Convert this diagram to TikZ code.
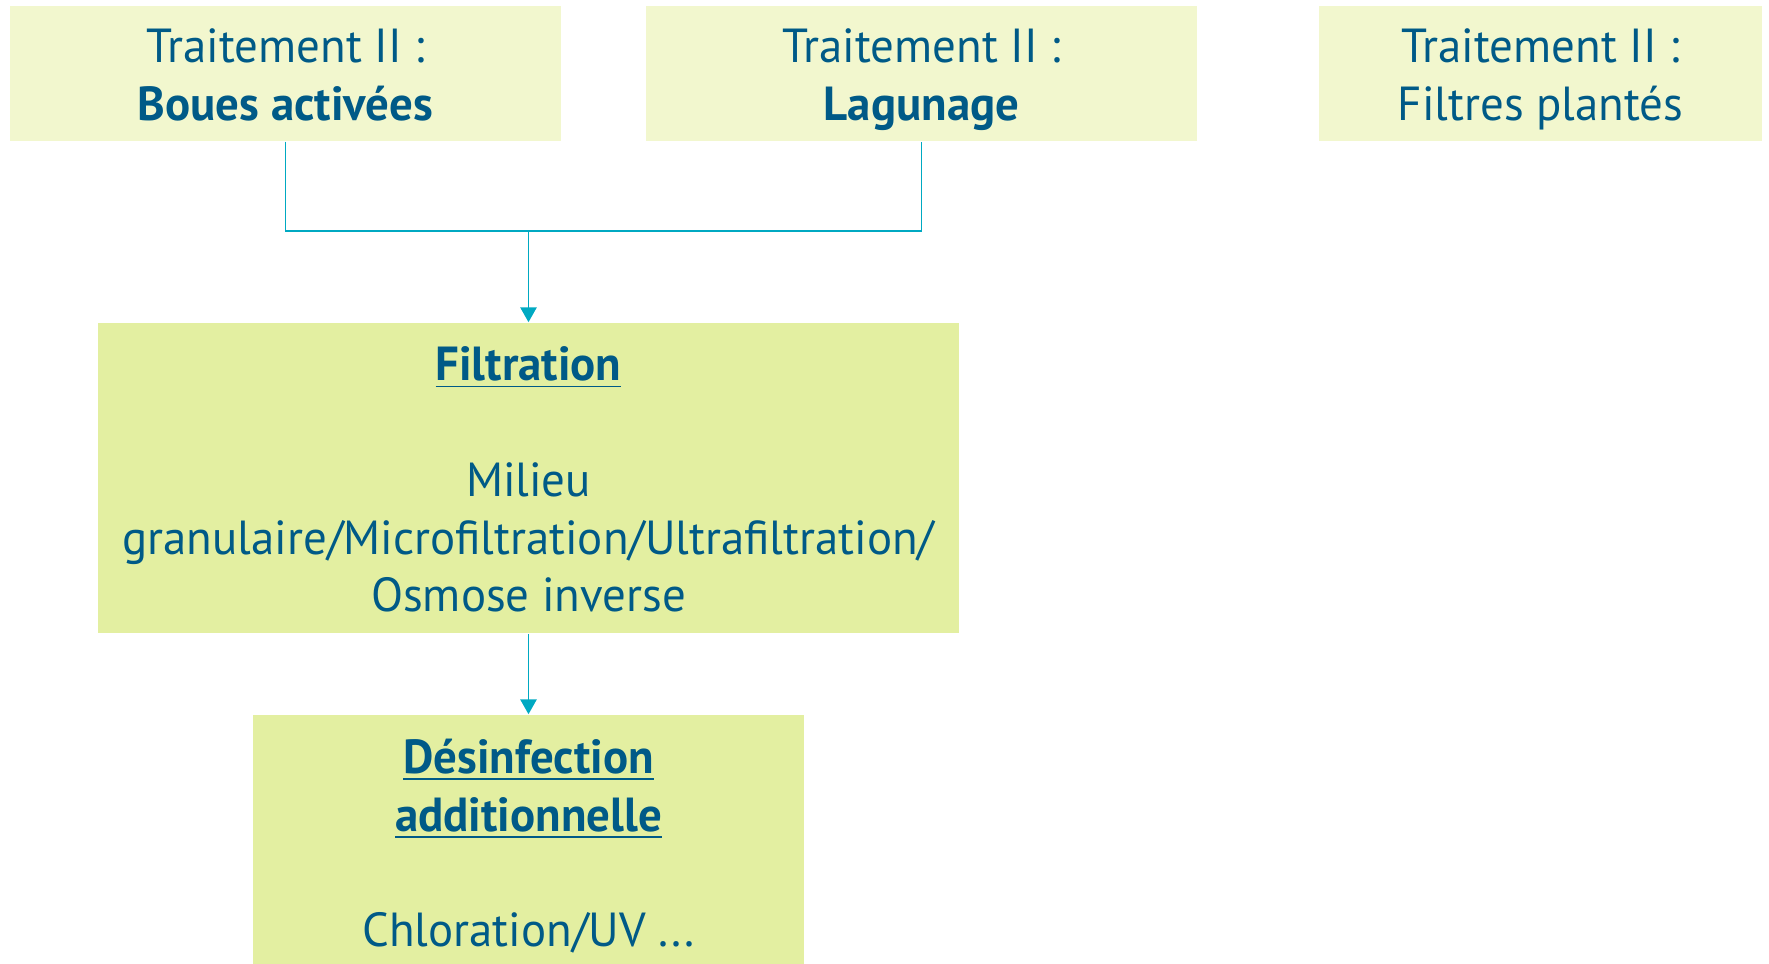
\documentclass[tikz,border=0pt]{standalone}
\usepackage{fontspec}
\setmainfont{PT Sans}[FakeStretch=0.98]
\usetikzlibrary{arrows.meta}
\definecolor{boxlight}{HTML}{F2F7CE}
\definecolor{boxgreen}{HTML}{E3EFA1}
\definecolor{txtblue}{HTML}{005A87}
\definecolor{linkteal}{HTML}{00A9C2}
\tikzset{
  px/.style={x=0.01cm,y=-0.01cm},
  topbox/.style={fill=boxlight,draw=none,inner sep=0pt},
  lowbox/.style={fill=boxgreen,draw=none,inner sep=0pt},
  txt/.style={text=txtblue,align=center,inner sep=0pt,anchor=north,font=\fontsize{13.6}{16.4}\selectfont},
  link/.style={draw=linkteal,line width=0.5pt},
  arr/.style={link,-{Triangle[width=4.6pt,length=4.2pt]}}
}
\begin{document}
\begin{tikzpicture}[px]
\useasboundingbox (0,0) rectangle (1769,964);
% boxes
\node[topbox,minimum width=5.51cm,minimum height=1.35cm] (b1) at (285.5,73.5) {};
\node[topbox,minimum width=5.51cm,minimum height=1.35cm] (b2) at (921.5,73.5) {};
\node[topbox,minimum width=4.43cm,minimum height=1.35cm] (b3) at (1540.5,73.5) {};
\node[lowbox,minimum width=8.60cm,minimum height=3.10cm] (filt) at (528.5,478) {};
\node[lowbox,minimum width=5.50cm,minimum height=2.49cm] (des) at (528.5,839.5) {};
% texts
\node[txt] (t1) at ([yshift=-0.166cm]b1.north) {\strut Traitement II :\\\textbf{Boues activées}};
\node[txt] (t2) at ([yshift=-0.166cm]b2.north) {\strut Traitement II :\\\textbf{Lagunage}};
\node[txt] (t3) at ([yshift=-0.166cm]b3.north) {\strut Traitement II :\\Filtres plantés};
\node[txt] (tf) at ([yshift=-0.177cm]filt.north) {\strut\textbf{\underline{Filtration}}\\[16.4pt]Milieu\\granulaire/Microfiltration/Ultrafiltration/\\Osmose inverse};
\node[txt] (td) at ([yshift=-0.183cm]des.north) {\strut\textbf{\underline{Désinfection}}\\\textbf{\underline{additionnelle}}\\[16.4pt]Chloration/UV ...};
% connectors
\coordinate (j) at (528.5,231);
\draw[link] (b1.south) |- (j) -| (b2.south);
\draw[arr] (j) -- (filt.north);
\draw[arr] (filt.south) -- (des.north);
\end{tikzpicture}
\end{document}
